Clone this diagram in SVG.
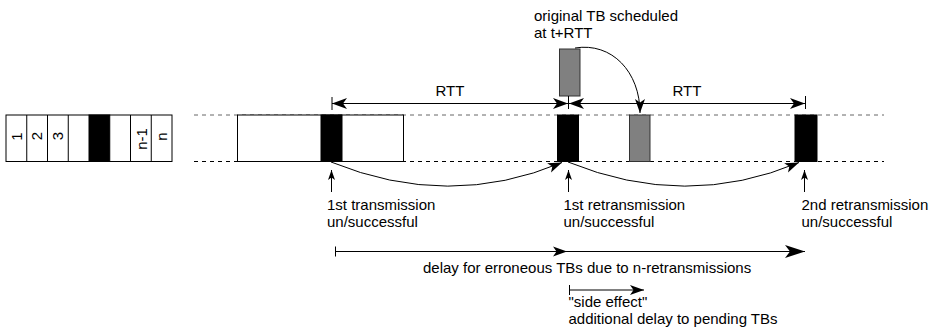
<svg xmlns="http://www.w3.org/2000/svg" width="936" height="336" viewBox="0 0 936 336">
  <style>
    text { font-family: "Liberation Sans", Arial, sans-serif; font-size: 15px; fill: #000; }
    .mid { text-anchor: middle; }
    .box { fill: #fff; stroke: #000; stroke-width: 1; }
    .blk { fill: #000; stroke: #000; stroke-width: 1; }
    .gry { fill: #808080; stroke: #333; stroke-width: 1; }
    .ln { fill: none; stroke: #000; stroke-width: 1; }
    .dash-top { fill: none; stroke: #666; stroke-width: 1; stroke-dasharray: 4 4; }
    .dash-bot { fill: none; stroke: #000; stroke-width: 1; stroke-dasharray: 4 4; }
  </style>
  <defs>
    <marker id="head" markerUnits="userSpaceOnUse" viewBox="-16 -7 17 14" refX="0" refY="0" markerWidth="17" markerHeight="14" orient="auto-start-reverse">
      <path d="M0,0 L-15,-5.5 L-11,0 L-15,5.5 Z" fill="#000"/>
    </marker>
    <marker id="head-s" markerUnits="userSpaceOnUse" viewBox="-16 -7 17 14" refX="0" refY="0" markerWidth="17" markerHeight="14" orient="auto">
      <path d="M0,0 L-14,-5 L-10.5,0 L-14,5 Z" fill="#000"/>
    </marker>
    <marker id="head-up" markerUnits="userSpaceOnUse" viewBox="-11 -5 12 10" refX="0" refY="0" markerWidth="12" markerHeight="10" orient="auto">
      <path d="M0,0 L-10,-3.5 L-7.5,0 L-10,3.5 Z" fill="#000"/>
    </marker>
    <marker id="head-l" markerUnits="userSpaceOnUse" viewBox="-22 -8 23 16" refX="0" refY="0" markerWidth="23" markerHeight="16" orient="auto">
      <path d="M0,0 L-20,-6.5 L-15,0 L-20,6.5 Z" fill="#000"/>
    </marker>
  </defs>

  <!-- frame of n transport blocks -->
  <g id="frame">
    <rect class="box" x="6" y="115" width="166" height="46.5"/>
    <rect class="blk" x="89" y="115" width="20.75" height="46.5"/>
    <path class="ln" d="M26.75,115V161.5 M47.5,115V161.5 M68.25,115V161.5 M130.5,115V161.5 M151.25,115V161.5"/>
    <text class="mid" transform="translate(21.5,136.5) rotate(-90)">1</text>
    <text class="mid" transform="translate(42,136) rotate(-90)">2</text>
    <text class="mid" transform="translate(63,136) rotate(-90)">3</text>
    <text class="mid" transform="translate(146.5,139) rotate(-90)">n-1</text>
    <text class="mid" transform="translate(166.5,136.5) rotate(-90)">n</text>
  </g>

  <!-- time line -->
  <g id="timeline">
    <line class="dash-top" x1="194" y1="115" x2="884" y2="115"/>
    <line class="dash-bot" x1="194" y1="161.5" x2="884" y2="161.5"/>
  </g>

  <g id="first-frame">
    <rect class="box" x="237.5" y="115" width="166" height="46.5"/>
  </g>
  <g id="tx1">
    <rect class="blk" x="321" y="115" width="21" height="46.5"/>
  </g>
  <g id="retx1">
    <rect class="blk" x="557.5" y="115" width="21" height="46.5"/>
  </g>
  <g id="pending-tb">
    <rect class="gry" x="559.5" y="49" width="20.5" height="47"/>
  </g>
  <g id="pending-tb-moved">
    <rect class="gry" x="629.5" y="115" width="20.5" height="46.5"/>
  </g>
  <g id="retx2">
    <rect class="blk" x="795" y="115" width="22" height="46.5"/>
  </g>

  <g id="connectors">
    <!-- RTT spans -->
    <path class="ln" d="M332,97V110 M568.5,96V109 M805.5,96V109"/>
    <line class="ln" x1="332" y1="103.5" x2="568" y2="103.5" marker-start="url(#head)" marker-end="url(#head)"/>
    <line class="ln" x1="569" y1="103.5" x2="805" y2="103.5" marker-start="url(#head)" marker-end="url(#head)"/>
    <!-- retransmission curves -->
    <path class="ln" d="M331,162 Q449,210 562,162.5" marker-end="url(#head-s)"/>
    <path class="ln" d="M568,162 Q686,210 799,162.5" marker-end="url(#head-s)"/>
    <!-- rescheduling of the pending TB -->
    <path class="ln" d="M575,48 C612,42 640,72 640,113" marker-end="url(#head-s)"/>
    <!-- result markers -->
    <line class="ln" x1="331.5" y1="192" x2="331.5" y2="170" marker-end="url(#head-up)"/>
    <line class="ln" x1="568.5" y1="192" x2="568.5" y2="170" marker-end="url(#head-up)"/>
    <line class="ln" x1="804.5" y1="192" x2="804.5" y2="170" marker-end="url(#head-up)"/>
    <!-- delays -->
    <path class="ln" d="M335.5,246.5V256.5"/>
    <line class="ln" x1="335.5" y1="251.5" x2="567" y2="251.5" marker-end="url(#head-s)"/>
    <line class="ln" x1="567" y1="251.5" x2="805" y2="251.5" marker-end="url(#head-l)"/>
    <path class="ln" d="M569.5,285V295"/>
    <line class="ln" x1="569.5" y1="290" x2="644" y2="290" marker-end="url(#head-s)"/>
  </g>

  <g id="labels">
    <text x="534" y="20.5">original TB scheduled</text>
    <text x="534" y="37.5">at t+RTT</text>
    <text class="mid" x="450" y="95.5">RTT</text>
    <text class="mid" x="687" y="95.5">RTT</text>
    <text x="327" y="209.5">1st transmission</text>
    <text x="327" y="226.5">un/successful</text>
    <text x="563.5" y="209.5">1st retransmission</text>
    <text x="563.5" y="226.5">un/successful</text>
    <text x="801.5" y="209.5">2nd retransmission</text>
    <text x="801.5" y="226.5">un/successful</text>
    <text x="423" y="273">delay for erroneous TBs due to n-retransmissions</text>
    <text x="568.5" y="306.5">"side effect"</text>
    <text x="568.5" y="323.5">additional delay to pending TBs</text>
  </g>
</svg>
